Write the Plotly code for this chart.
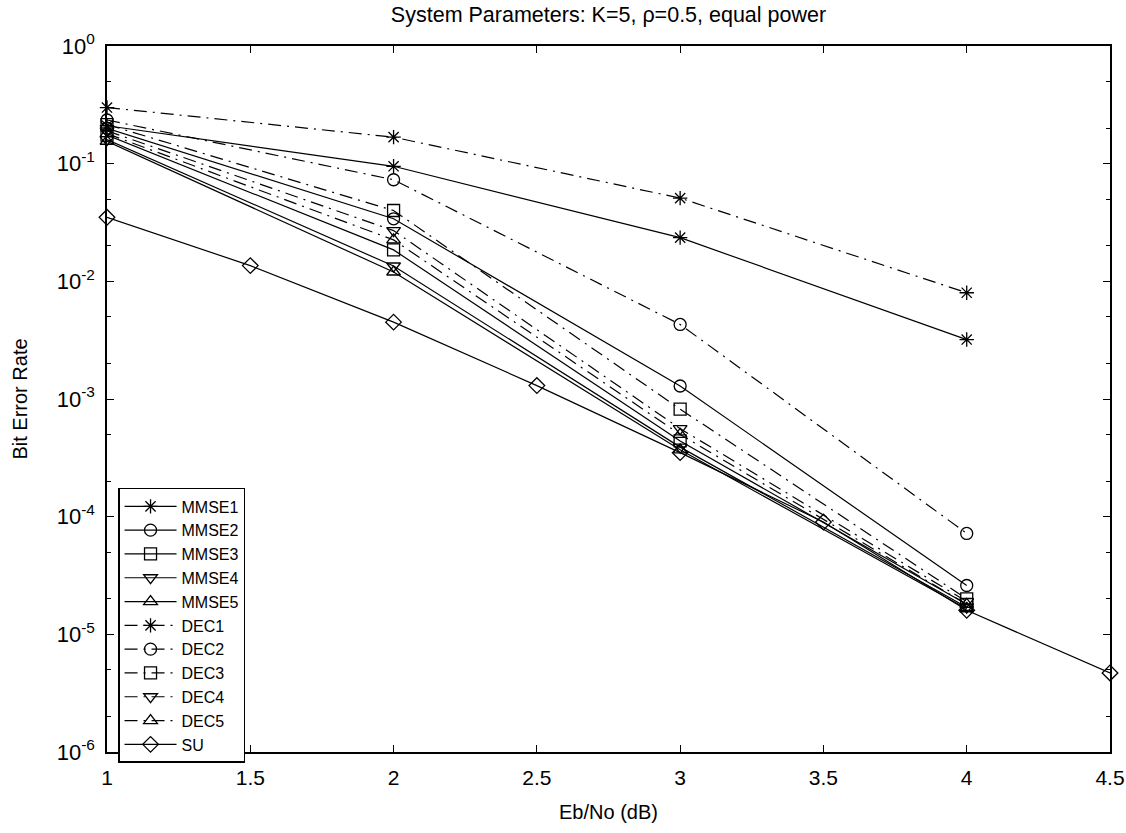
import plotly.graph_objects as go

x = [1, 2, 3, 4]
mmse1 = [0.21, 0.095, 0.0235, 0.0032]
mmse2 = [0.20, 0.034, 0.00129, 2.6e-5]
mmse3 = [0.175, 0.0185, 4.4e-4, 1.8e-5]
mmse4 = [0.16, 0.0135, 3.9e-4, 1.7e-5]
mmse5 = [0.155, 0.012, 3.7e-4, 1.65e-5]
dec1 = [0.30, 0.168, 0.051, 0.0080]
dec2 = [0.235, 0.073, 0.0043, 7.2e-5]
dec3 = [0.215, 0.040, 8.2e-4, 2.0e-5]
dec4 = [0.19, 0.027, 5.6e-4, 1.9e-5]
dec5 = [0.18, 0.0225, 5.0e-4, 1.8e-5]
su_x = [1, 1.5, 2, 2.5, 3, 3.5, 4, 4.5]
su = [0.035, 0.0136, 0.0045, 0.0013, 3.5e-4, 9e-5, 1.6e-5, 4.7e-6]

x_ticks = [1, 1.5, 2, 2.5, 3, 3.5, 4, 4.5]
x_ticktext = ["1", "1.5", "2", "2.5", "3", "3.5", "4", "4.5"]
y_ticks = [1e-6, 1e-5, 1e-4, 1e-3, 1e-2, 1e-1, 1]
y_ticktext = ["10<sup>-6</sup>", "10<sup>-5</sup>", "10<sup>-4</sup>",
              "10<sup>-3</sup>", "10<sup>-2</sup>", "10<sup>-1</sup>",
              "10<sup>0</sup>"]

DASHDOT = "13px,6px,2px,6px"
series = [
    ("MMSE1", x, mmse1, "asterisk-open", "solid"),
    ("MMSE2", x, mmse2, "circle-open", "solid"),
    ("MMSE3", x, mmse3, "square-open", "solid"),
    ("MMSE4", x, mmse4, "triangle-down-open", "solid"),
    ("MMSE5", x, mmse5, "triangle-up-open", "solid"),
    ("DEC1", x, dec1, "asterisk-open", DASHDOT),
    ("DEC2", x, dec2, "circle-open", DASHDOT),
    ("DEC3", x, dec3, "square-open", DASHDOT),
    ("DEC4", x, dec4, "triangle-down-open", DASHDOT),
    ("DEC5", x, dec5, "triangle-up-open", DASHDOT),
    ("SU", su_x, su, "diamond-open", "solid"),
]

fig = go.Figure()
for name, xs, ys, sym, dash in series:
    fig.add_trace(go.Scatter(
        x=xs, y=ys, name=name, mode="lines+markers",
        line=dict(color="black", width=1.2, dash=dash),
        marker=dict(symbol=sym, size=12, color="black",
                    line=dict(color="black", width=1.3)),
        cliponaxis=False,
    ))

font = "Liberation Sans, Arial, sans-serif"
fig.update_layout(
    width=1126, height=833,
    margin=dict(l=107, r=16, t=46, b=81, autoexpand=False),
    paper_bgcolor="white", plot_bgcolor="white",
    font=dict(family=font, color="black", size=20),
    title=dict(text="System Parameters: K=5, ρ=0.5, equal power",
               x=(107 + 1110) / 2 / 1126, xanchor="center",
               y=1 - 14 / 833, yanchor="middle",
               font=dict(size=21.5)),
    showlegend=True,
    legend=dict(x=0.011, y=0.374, xanchor="left", yanchor="top",
                bgcolor="white", bordercolor="black", borderwidth=1.5,
                font=dict(size=16), tracegroupgap=0, itemwidth=52),
)
fig.update_xaxes(
    range=[1, 4.5], tickvals=x_ticks, ticktext=x_ticktext,
    tickfont=dict(size=21), automargin=False,
    ticks="inside", ticklen=7, tickcolor="black", ticklabelstandoff=6,
    showline=True, linecolor="black", linewidth=1.5, mirror="ticks",
    showgrid=False, zeroline=False,
    title=dict(text="Eb/No (dB)", font=dict(size=20), standoff=17),
)
fig.update_yaxes(
    type="log", range=[-6, 0],
    tickvals=y_ticks, ticktext=y_ticktext,
    tickfont=dict(size=22), automargin=False, ticklabelstandoff=6,
    ticks="inside", ticklen=7, tickcolor="black",
    minor=dict(ticks="inside", ticklen=4, tickcolor="black", showgrid=False),
    showline=True, linecolor="black", linewidth=1.5, mirror="ticks",
    showgrid=False, zeroline=False,
    title=dict(text="Bit Error Rate", font=dict(size=20), standoff=24),
)

fig.write_html("out.html")
